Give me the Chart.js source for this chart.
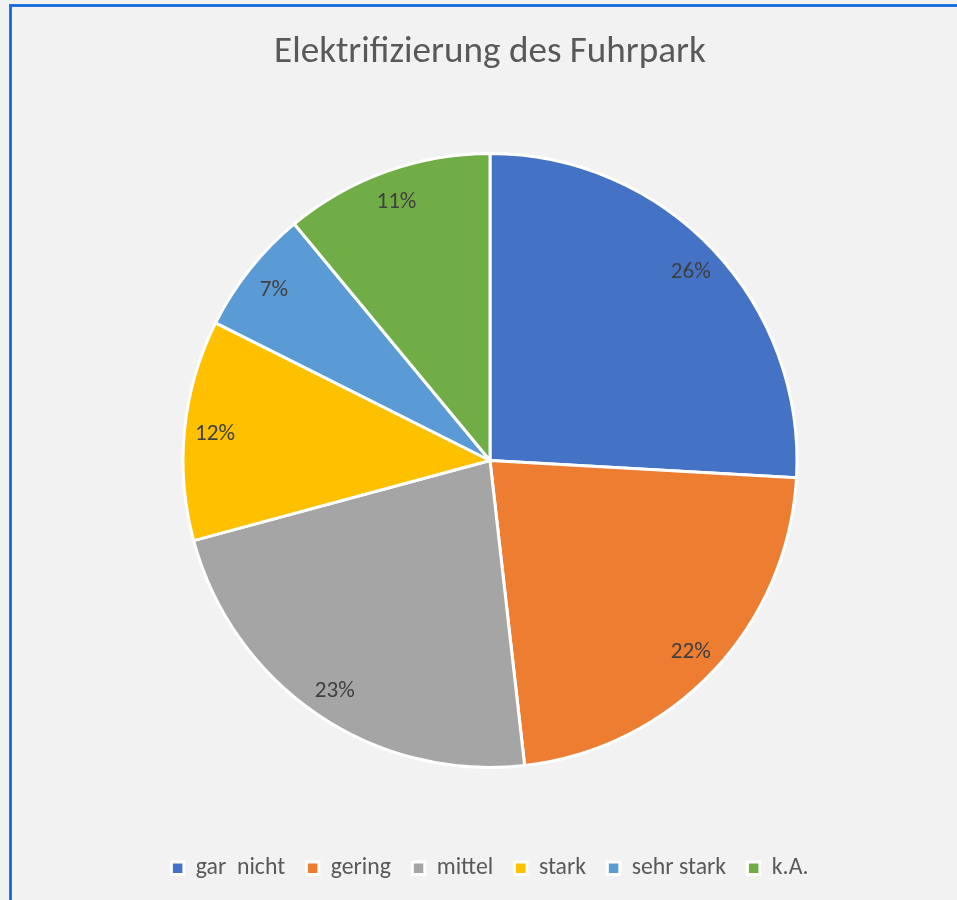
<!DOCTYPE html>
<html><head><meta charset="utf-8">
<script src="https://cdn.jsdelivr.net/npm/chart.js@4.4.0/dist/chart.umd.min.js"></script>
<style>
html,body{margin:0;padding:0;background:#f2f2f2;overflow:hidden;width:957px;height:900px}
#frame{position:absolute;left:9px;top:4px;width:1000px;height:1000px;border:3px solid #2a7ae2;box-sizing:border-box;pointer-events:none}
#frame2{position:absolute;left:10px;top:5px;width:1000px;height:1000px;border:1px solid #0a68d8;box-sizing:border-box;pointer-events:none}
#c{position:absolute;left:0;top:0}
</style></head><body>
<canvas id="c" width="957" height="900"></canvas>
<div id="frame"></div><div id="frame2"></div>
<script>
const chartTitle = 'Elektrifizierung des Fuhrpark';
const categories = ['gar  nicht', 'gering', 'mittel', 'stark', 'sehr stark', 'k.A.'];
const shares = [25.9, 22.3, 22.6, 11.6, 6.6, 11.0];
const sliceColors = ['#4472C4', '#ED7D31', '#A5A5A5', '#FFC000', '#5B9BD5', '#70AD47'];

const FAM = 'Carlito, Lato, "Open Sans", sans-serif';
const mctx = document.createElement('canvas').getContext('2d');
function widthAt(text, size) { mctx.font = size + 'px ' + FAM; return mctx.measureText(text).width; }
function fitSize(texts, target) { const w = texts.reduce((s, t) => s + widthAt(t, 100), 0); return 100 * target / w; }
function baselineBelowMiddle(size, ch) {
  mctx.font = size + 'px ' + FAM;
  mctx.textBaseline = 'alphabetic'; const a = mctx.measureText(ch).actualBoundingBoxAscent;
  mctx.textBaseline = 'middle'; const b = mctx.measureText(ch).actualBoundingBoxAscent;
  mctx.textBaseline = 'alphabetic';
  return a - b;
}
const W = 957, H = 900;
const titleSize = fitSize([chartTitle], 432);
const legendSize = fitSize(categories, 384.5);
const labelSize = fitSize(['26%'], 40);

// vertical layout
const titleMiddle = 62 - baselineBelowMiddle(titleSize, 'E');
const titlePadTop = titleMiddle - 0.6 * titleSize;
const legendMiddle = (867 + (875.5 - baselineBelowMiddle(legendSize, 'x'))) / 2;
const boxW = 12.5;
const legendPad = Math.max(45.7 - boxW - legendSize / 2, 4);
const layoutPadBottom = H - legendMiddle - legendSize / 2 - 10;
const legendH = legendSize + legendPad + 10;
const chartBottom = H - layoutPadBottom - legendH;
const titlePadBottom = Math.max(921 - chartBottom - (titlePadTop + 1.2 * titleSize), 0);

const labelPlugin = {
  id: 'sliceLabels',
  afterDatasetsDraw(chart) {
    const ctx = chart.ctx;
    const meta = chart.getDatasetMeta(0);
    const total = shares.reduce((a, b) => a + b, 0);
    ctx.save();
    ctx.font = labelSize + 'px ' + FAM;
    ctx.fillStyle = '#404040';
    ctx.textAlign = 'center';
    ctx.textBaseline = 'alphabetic';
    const h = ctx.measureText('0').actualBoundingBoxAscent;
    meta.data.forEach((arc, i) => {
      const p = arc.getProps(['x', 'y', 'startAngle', 'endAngle', 'outerRadius'], true);
      const mid = (p.startAngle + p.endAngle) / 2;
      const r = p.outerRadius * 0.9;
      ctx.fillText(Math.round(shares[i] / total * 100) + '%', p.x + Math.cos(mid) * r, p.y + Math.sin(mid) * r + h / 2);
    });
    ctx.restore();
  }
};

new Chart(document.getElementById('c'), {
  type: 'pie',
  data: {
    labels: categories,
    datasets: [{
      data: shares,
      backgroundColor: sliceColors,
      borderColor: '#ffffff',
      borderWidth: 3,
      hoverOffset: 0,
      radius: 307
    }]
  },
  options: {
    responsive: false,
    animation: false,
    devicePixelRatio: 1,
    layout: { padding: { left: 23, right: 0, top: 0, bottom: layoutPadBottom } },
    plugins: {
      tooltip: { enabled: false },
      title: {
        display: true,
        text: chartTitle,
        color: '#595959',
        font: { family: FAM, size: titleSize, weight: 'normal' },
        padding: { top: titlePadTop, bottom: titlePadBottom }
      },
      legend: {
        position: 'bottom',
        labels: {
          color: '#595959',
          font: { family: FAM, size: legendSize },
          boxWidth: boxW,
          boxHeight: boxW,
          padding: legendPad
        }
      }
    }
  },
  plugins: [labelPlugin]
});
</script>
</body></html>
